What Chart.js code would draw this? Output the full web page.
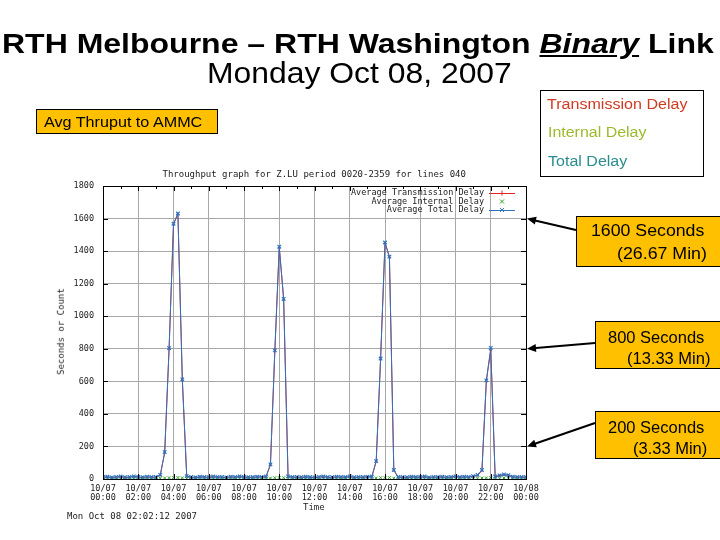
<!DOCTYPE html>
<html>
<head>
<meta charset="utf-8">
<script src="https://cdn.jsdelivr.net/npm/chart.js@4.4.1/dist/chart.umd.min.js"></script>
<style>
  body { margin: 0; background: #fff; }
  #slide { position: relative; width: 720px; height: 540px; overflow: hidden; background: #fff; }
  #c { position: absolute; left: 0; top: 0; z-index: 1; }
  .box { position: absolute; border: 1px solid #000; box-sizing: border-box; }
</style>
</head>
<body>
<div id="slide">
  <div class="box" style="left:36px;top:109px;width:182px;height:25px;background:#ffc000"></div>
  <div class="box" style="left:540px;top:90px;width:164px;height:87px;background:#fff"></div>
  <div class="box" style="left:576px;top:216px;width:150px;height:51px;background:#ffc000"></div>
  <div class="box" style="left:595px;top:321px;width:130px;height:48px;background:#ffc000"></div>
  <div class="box" style="left:595px;top:411px;width:130px;height:48px;background:#ffc000"></div>
  <canvas id="c" width="720" height="540"></canvas>
</div>
<script>
// samples every 15 minutes, 10/07 00:00 .. 10/08 00:00
var sampleHours = 0.25;

var totalDelay = [
  12, 14, 10, 13, 15, 11, 12, 16, 13, 11, 14, 12,
  13, 25, 165, 804, 1568, 1631, 612, 18,
  12, 10, 14, 13, 11, 15, 12, 13, 10, 14, 12, 16, 13, 11, 12, 14, 13,
  15, 90, 790, 1427, 1106, 16,
  12, 13, 11, 14, 12, 10, 13, 15, 12, 11, 14, 13, 12, 16, 11, 13, 12, 14,
  15, 110, 740, 1453, 1366, 55, 13,
  12, 11, 14, 13, 12, 15, 10, 13, 12, 14, 11, 13, 16, 12, 14, 13, 18,
  25, 55, 606, 805, 15,
  22, 28, 24, 14, 12, 13, 12
];
var internalDelay = [
  3, 4, 3, 5, 4, 3, 4, 5, 3, 4, 4, 3,
  4, 5, 6, 8, 9, 9, 7, 4,
  3, 4, 3, 4, 3, 5, 4, 3, 3, 4, 3, 5, 4, 3, 4, 4, 3,
  4, 6, 8, 9, 8, 4,
  3, 4, 3, 4, 4, 3, 4, 5, 3, 3, 4, 4, 3, 5, 3, 4, 3, 4,
  4, 6, 8, 9, 9, 5, 4,
  3, 3, 4, 4, 3, 4, 3, 4, 3, 4, 3, 4, 5, 3, 4, 5, 4,
  5, 6, 7, 9, 4,
  5, 6, 5, 4, 3, 4, 3
];
var transmissionDelay = [
  10, 12, 8, 11, 13, 9, 10, 14, 11, 9, 12, 10,
  11, 23, 162, 801, 1565, 1628, 609, 16,
  10, 8, 12, 11, 9, 13, 10, 11, 8, 12, 10, 14, 11, 9, 10, 12, 11,
  13, 87, 787, 1424, 1103, 14,
  10, 11, 9, 12, 10, 8, 11, 13, 10, 9, 12, 11, 10, 14, 9, 11, 10, 12,
  13, 107, 737, 1450, 1363, 52, 11,
  10, 9, 12, 11, 10, 13, 8, 11, 10, 12, 9, 11, 14, 10, 12, 11, 16,
  22, 52, 603, 790, 13,
  20, 25, 22, 12, 10, 11, 10
];

var xTickDates = ['10/07','10/07','10/07','10/07','10/07','10/07','10/07','10/07','10/07','10/07','10/07','10/07','10/08'];
var xTickTimes = ['00:00','02:00','04:00','06:00','08:00','10:00','12:00','14:00','16:00','18:00','20:00','22:00','00:00'];
var seriesLabels = ['Average Transmission Delay', 'Average Internal Delay', 'Average Total Delay'];
var calloutValues = [1600, 800, 200];

var SLIDE_FONT = '"Liberation Sans", Arial, sans-serif';
var MONO_FONT = '"DejaVu Sans Mono", monospace';
var slide = document.getElementById('slide');

function addText(html, x, baseline, o) {
  var el = document.createElement('div');
  el.innerHTML = html;
  el.style.position = 'absolute';
  el.style.whiteSpace = 'nowrap';
  el.style.zIndex = 2;
  el.style.font = (o.style || 'normal') + ' ' + (o.weight || 'normal') + ' ' + o.size + 'px ' + (o.family || SLIDE_FONT);
  el.style.lineHeight = o.size + 'px';
  el.style.color = o.color || '#000';
  el.style.top = (baseline - 0.8465 * o.size) + 'px';
  slide.appendChild(el);
  var w = el.offsetWidth;
  var sx = o.width ? o.width / w : 1;
  var left = x;
  if (o.align === 'center') left = x - w * sx / 2;
  if (o.align === 'right') left = x - w * sx;
  el.style.left = left + 'px';
  if (sx !== 1) {
    el.style.transformOrigin = 'left top';
    el.style.transform = 'scaleX(' + sx + ')';
  }
  return el;
}

// slide texts
addText('RTH Melbourne – RTH Washington <i><u>Binary</u></i> Link', 2, 54, {size: 28, weight: 'bold', width: 712});
addText('Monday Oct 08, 2007', 207, 83, {size: 30, width: 305});
addText('Avg Thruput to AMMC', 44, 127, {size: 14, width: 158});
addText('Transmission Delay', 547, 109, {size: 14, width: 140, color: '#d03a22'});
addText('Internal Delay', 548, 137, {size: 14, width: 98, color: '#9cbb2c'});
addText('Total Delay', 548, 166, {size: 14, width: 79, color: '#2a8c8c'});
addText('1600 Seconds', 591, 237, {size: 16, width: 113});
addText('(26.67 Min)', 617, 260, {size: 16, width: 90});
addText('800 Seconds', 704, 343, {size: 16.5, align: 'right'});
addText('(13.33 Min)', 710, 364, {size: 16.5, align: 'right'});
addText('200 Seconds', 704, 433, {size: 16.5, align: 'right'});
addText('(3.33 Min)', 707, 454, {size: 16.5, align: 'right'});

// gnuplot texts
addText('Throughput graph for Z.LU period 0020-2359 for lines 040', 314, 178, {size: 9, family: MONO_FONT, align: 'center', color: '#222'});
addText('Time', 314, 511, {size: 9, family: MONO_FONT, align: 'center', color: '#222'});
addText('Mon Oct 08 02:02:12 2007', 67, 520, {size: 9, family: MONO_FONT, color: '#222'});
var yTitle = addText('Seconds or Count', 61, 335, {size: 9, family: MONO_FONT, align: 'center', color: '#222'});
yTitle.style.transformOrigin = 'center center';
yTitle.style.transform = 'rotate(-90deg)';

function toPoints(arr) {
  return arr.map(function (v, i) { return {x: i * sampleHours, y: v}; });
}

var RED = '#e8231f', GREEN = '#2aa02a', BLUE = '#2f73bf';

var gnuplotDecor = {
  id: 'gnuplotDecor',
  afterDraw: function (chart) {
    var ctx = chart.ctx, a = chart.chartArea;
    var xs = chart.scales.x, ys = chart.scales.y;
    ctx.save();
    ctx.strokeStyle = '#000';
    ctx.lineWidth = 1;
    ctx.strokeRect(Math.round(a.left) + 0.5, Math.round(a.top) + 0.5, Math.round(a.right - a.left), Math.round(a.bottom - a.top));
    // inner tick marks
    ctx.beginPath();
    for (var h = 0; h <= 24; h++) {
      var px = Math.round(xs.getPixelForValue(h)) + 0.5;
      var len = h % 2 === 0 ? 5 : 3;
      ctx.moveTo(px, a.bottom); ctx.lineTo(px, a.bottom - len);
      ctx.moveTo(px, a.top); ctx.lineTo(px, a.top + len);
    }
    ys.ticks.forEach(function (t) {
      var py = Math.round(ys.getPixelForValue(t.value)) + 0.5;
      ctx.moveTo(a.left, py); ctx.lineTo(a.left + 5, py);
      ctx.moveTo(a.right, py); ctx.lineTo(a.right - 5, py);
    });
    ctx.stroke();

    // key inside the plot
    var rows = [193, 201.5, 210];
    var styles = [
      {color: RED, line: true, mark: 'plus'},
      {color: GREEN, line: false, mark: 'x'},
      {color: BLUE, line: true, mark: 'x'}
    ];
    ctx.font = '8.5px ' + MONO_FONT;
    ctx.textAlign = 'right';
    ctx.textBaseline = 'middle';
    seriesLabels.forEach(function (lab, i) {
      var y = rows[i];
      ctx.fillStyle = '#222';
      ctx.fillText(lab, 484, y);
      var s = styles[i];
      ctx.strokeStyle = s.color;
      ctx.beginPath();
      if (s.line) { ctx.moveTo(489, y + 0.5); ctx.lineTo(515, y + 0.5); }
      if (s.mark === 'plus') {
        ctx.moveTo(502, y - 2.5); ctx.lineTo(502, y + 2.5);
      } else {
        ctx.moveTo(500, y - 2); ctx.lineTo(504, y + 2);
        ctx.moveTo(500, y + 2); ctx.lineTo(504, y - 2);
      }
      ctx.stroke();
    });

    // callout arrows
    var starts = [[576, 230], [595, 343], [595, 423]];
    ctx.strokeStyle = '#000';
    ctx.fillStyle = '#000';
    ctx.lineWidth = 2;
    calloutValues.forEach(function (v, i) {
      var x0 = starts[i][0], y0 = starts[i][1];
      var x1 = a.right + 1, y1 = ys.getPixelForValue(v);
      var ang = Math.atan2(y1 - y0, x1 - x0);
      ctx.beginPath();
      ctx.moveTo(x0, y0);
      ctx.lineTo(x1 - 6 * Math.cos(ang), y1 - 6 * Math.sin(ang));
      ctx.stroke();
      ctx.beginPath();
      ctx.moveTo(x1, y1);
      ctx.lineTo(x1 - 9 * Math.cos(ang) + 4 * Math.sin(ang), y1 - 9 * Math.sin(ang) - 4 * Math.cos(ang));
      ctx.lineTo(x1 - 9 * Math.cos(ang) - 4 * Math.sin(ang), y1 - 9 * Math.sin(ang) + 4 * Math.cos(ang));
      ctx.closePath();
      ctx.fill();
    });
    ctx.restore();
  }
};

var tickFont = {family: MONO_FONT, size: 8.5, lineHeight: 1.05};

new Chart(document.getElementById('c'), {
  type: 'line',
  data: {
    datasets: [
      {
        label: seriesLabels[2], data: toPoints(totalDelay), order: 0,
        borderColor: BLUE, backgroundColor: BLUE, borderWidth: 1,
        pointStyle: 'crossRot', pointRadius: 2.5, pointBorderWidth: 1.2, tension: 0
      },
      {
        label: seriesLabels[1], data: toPoints(internalDelay), order: 1,
        borderColor: GREEN, backgroundColor: GREEN, borderWidth: 1, showLine: false,
        pointStyle: 'crossRot', pointRadius: 2, pointBorderWidth: 1
      },
      {
        label: seriesLabels[0], data: toPoints(transmissionDelay), order: 2,
        borderColor: RED, backgroundColor: RED, borderWidth: 1,
        pointStyle: 'cross', pointRadius: 1.2, pointBorderWidth: 1, tension: 0
      }
    ]
  },
  options: {
    responsive: false,
    animation: false,
    devicePixelRatio: 1,
    layout: {padding: {left: 0, right: 194, top: 186, bottom: 0}},
    plugins: {legend: {display: false}, title: {display: false}, tooltip: {enabled: false}},
    scales: {
      x: {
        type: 'linear', min: 0, max: 24,
        afterFit: function (s) { s.height = 61; },
        afterBuildTicks: function (s) {
          s.ticks = xTickTimes.map(function (t, i) { return {value: i * 2}; });
        },
        ticks: {
          autoSkip: false, maxRotation: 0, padding: 5, color: '#222', font: tickFont,
          callback: function (v, i) { return [xTickDates[i], xTickTimes[i]]; }
        },
        grid: {color: '#a8a8a8', drawTicks: false},
        border: {display: false}
      },
      y: {
        min: 0, max: 1800,
        afterFit: function (s) { s.width = 103; },
        ticks: {
          stepSize: 200, padding: 9, color: '#222', font: tickFont,
          callback: function (v) { return String(v); }
        },
        grid: {color: '#a8a8a8', drawTicks: false},
        border: {display: false}
      }
    }
  },
  plugins: [gnuplotDecor]
});
</script>
</body>
</html>
